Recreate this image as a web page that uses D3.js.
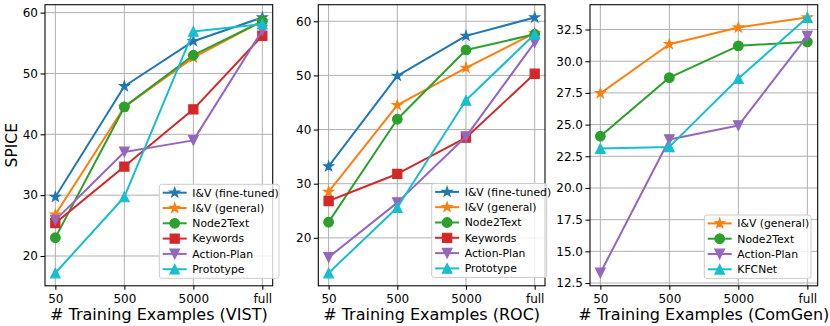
<!DOCTYPE html>
<html><head><meta charset="utf-8">
<script src="https://cdn.jsdelivr.net/npm/d3@7"></script>
<style>body{margin:0;background:#fff}svg{display:block}</style>
</head><body>
<script>
const categories = ["50", "500", "5000", "full"];

// Panel 1: VIST
const vistIVFine   = [29.7, 47.9, 55.3, 59.2];
const vistIVGen    = [26.8, 44.5, 52.6, 58.6];
const vistNode2    = [23.0, 44.5, 53.0, 58.6];
const vistKeywords = [25.4, 34.7, 44.1, 56.2];
const vistAction   = [25.9, 37.1, 39.0, 57.1];
const vistProto    = [17.2, 29.7, 56.9, 58.1];

// Panel 2: ROC
const rocIVFine   = [33.2, 49.9, 57.3, 60.7];
const rocIVGen    = [28.5, 44.5, 51.4, 57.8];
const rocNode2    = [22.9, 41.9, 54.7, 57.6];
const rocKeywords = [26.8, 31.8, 38.5, 50.3];
const rocAction   = [16.4, 26.5, 38.7, 56.1];
const rocProto    = [13.5, 25.6, 45.4, 57.6];

// Panel 3: ComGen
const cgIVGen  = [27.47, 31.34, 32.66, 33.45];
const cgNode2  = [24.08, 28.71, 31.21, 31.53];
const cgAction = [13.29, 23.82, 24.92, 31.97];
const cgKFC    = [23.11, 23.24, 28.63, 33.45];

const ticksVist = [20, 30, 40, 50, 60];
const ticksRoc = [20, 30, 40, 50, 60];
const ticksCg = [12.5, 15.0, 17.5, 20.0, 22.5, 25.0, 27.5, 30.0, 32.5];

const styles = {
  "I&V (fine-tuned)": {color: "#1f77b4", marker: "star"},
  "I&V (general)":    {color: "#ff7f0e", marker: "star"},
  "Node2Text":        {color: "#2ca02c", marker: "circle"},
  "Keywords":         {color: "#d62728", marker: "square"},
  "Action-Plan":      {color: "#9467bd", marker: "tdown"},
  "Prototype":        {color: "#17becf", marker: "tup"},
  "KFCNet":           {color: "#17becf", marker: "tup"}
};

const panels = [
  {xlabel: "# Training Examples (VIST)", ylabel: "SPICE", yticks: ticksVist, fmt: d3.format("d"),
   left: 45, right: 272.7, legendX: 159.3, legendY: 184.3, legendW: 119.7,
   series: [["I&V (fine-tuned)", vistIVFine], ["I&V (general)", vistIVGen], ["Node2Text", vistNode2],
            ["Keywords", vistKeywords], ["Action-Plan", vistAction], ["Prototype", vistProto]]},
  {xlabel: "# Training Examples (ROC)", ylabel: null, yticks: ticksRoc, fmt: d3.format("d"),
   left: 318.3, right: 545, legendX: 431.7, legendY: 183.5, legendW: 115,
   series: [["I&V (fine-tuned)", rocIVFine], ["I&V (general)", rocIVGen], ["Node2Text", rocNode2],
            ["Keywords", rocKeywords], ["Action-Plan", rocAction], ["Prototype", rocProto]]},
  {xlabel: "# Training Examples (ComGen)", ylabel: null, yticks: ticksCg, fmt: d3.format(".1f"),
   left: 590, right: 817.7, legendX: 704.3, legendY: 215, legendW: 106.7,
   series: [["I&V (general)", cgIVGen], ["Node2Text", cgNode2], ["Action-Plan", cgAction], ["KFCNet", cgKFC]]}
];

const W = 830, H = 326, TOP = 4.7, BOTTOM = 285.8;
const FONT = "'DejaVu Sans', sans-serif";
const svg = d3.select("body").append("svg").attr("width", W).attr("height", H);

const MS = 9.6;
function markerPath(type, s) {
  const r = s / 2;
  if (type === "circle") return d3.symbol(d3.symbolCircle, Math.PI * r * r)();
  if (type === "square") { const h = r * 0.95; return `M${-h},${-h}H${h}V${h}H${-h}Z`; }
  if (type === "tup") return `M0,${-r}L${r},${r}L${-r},${r}Z`;
  if (type === "tdown") return `M0,${r}L${r},${-r}L${-r},${-r}Z`;
  if (type === "star") {
    const pts = [];
    const ro = r * 1.05, ri = ro * 0.381966;
    for (let i = 0; i < 10; i++) {
      const a = -Math.PI / 2 + i * Math.PI / 5;
      const rr = i % 2 === 0 ? ro : ri;
      pts.push([rr * Math.cos(a), rr * Math.sin(a)]);
    }
    return "M" + pts.map(p => p.join(",")).join("L") + "Z";
  }
}

panels.forEach(p => {
  const allVals = p.series.flatMap(s => s[1]);
  const mn = d3.min(allVals), mx = d3.max(allVals), pad = (mx - mn) * 0.05;
  const x = d3.scaleLinear().domain([-0.15, categories.length - 1 + 0.15]).range([p.left, p.right]);
  const y = d3.scaleLinear().domain([mn - pad, mx + pad]).range([BOTTOM, TOP]);
  const g = svg.append("g");

  // grid
  g.append("g").selectAll("line").data(categories).join("line")
    .attr("x1", (d, i) => x(i)).attr("x2", (d, i) => x(i)).attr("y1", TOP).attr("y2", BOTTOM)
    .attr("stroke", "#b0b0b0").attr("stroke-width", 1);
  g.append("g").selectAll("line").data(p.yticks).join("line")
    .attr("x1", p.left).attr("x2", p.right).attr("y1", d => y(d)).attr("y2", d => y(d))
    .attr("stroke", "#b0b0b0").attr("stroke-width", 1);

  // axes
  const xAxis = d3.axisBottom(x).tickValues(d3.range(categories.length)).tickFormat(i => categories[i])
    .tickSizeInner(4).tickSizeOuter(0).tickPadding(4.5);
  const gx = g.append("g").attr("transform", `translate(0,${BOTTOM})`).call(xAxis);
  const yAxis = d3.axisLeft(y).tickValues(p.yticks).tickFormat(p.fmt)
    .tickSizeInner(4.5).tickSizeOuter(0).tickPadding(2.5);
  const gy = g.append("g").attr("transform", `translate(${p.left},0)`).call(yAxis);
  [gx, gy].forEach(a => {
    a.attr("font-family", FONT).attr("font-size", 12);
    a.select(".domain").remove();
    a.selectAll("line").attr("stroke", "#000").attr("stroke-width", 1.07);
    a.selectAll("text").attr("font-family", FONT).attr("font-size", 12).attr("fill", "#000");
  });

  // series
  const line = d3.line().x((d, i) => x(i)).y(d => y(d));
  p.series.forEach(([name, vals]) => {
    const st = styles[name];
    g.append("path").datum(vals).attr("d", line).attr("fill", "none")
      .attr("stroke", st.color).attr("stroke-width", 2).attr("stroke-linejoin", "round").attr("stroke-linecap", "square");
    g.append("g").selectAll("path").data(vals).join("path")
      .attr("transform", (d, i) => `translate(${x(i)},${y(d)})`)
      .attr("d", markerPath(st.marker, MS))
      .attr("fill", st.color).attr("stroke", st.color).attr("stroke-width", 1.2).attr("stroke-linejoin", "miter");
  });

  // frame
  g.append("rect").attr("x", p.left).attr("y", TOP).attr("width", p.right - p.left).attr("height", BOTTOM - TOP)
    .attr("fill", "none").attr("stroke", "#000").attr("stroke-width", 1.07);

  // labels
  g.append("text").attr("x", (p.left + p.right) / 2).attr("y", 320).attr("text-anchor", "middle")
    .attr("font-family", FONT).attr("font-size", 16).text(p.xlabel);
  if (p.ylabel) {
    g.append("text").attr("transform", `translate(17,${(TOP + BOTTOM) / 2}) rotate(-90)`).attr("text-anchor", "middle")
      .attr("font-family", FONT).attr("font-size", 15.5).text(p.ylabel);
  }

  // legend
  const rowH = 15.3, n = p.series.length;
  const lh = n * rowH + 2.2;
  const lg = g.append("g").attr("transform", `translate(${p.legendX},${p.legendY})`);
  lg.append("rect").attr("width", p.legendW).attr("height", lh).attr("rx", 2.5)
    .attr("fill", "#fff").attr("fill-opacity", 0.8).attr("stroke", "#cccccc").attr("stroke-width", 1);
  p.series.forEach(([name], i) => {
    const st = styles[name];
    const cy = 8.4 + i * rowH;
    lg.append("line").attr("x1", 3.4).attr("x2", 27.4).attr("y1", cy).attr("y2", cy)
      .attr("stroke", st.color).attr("stroke-width", 2);
    lg.append("path").attr("transform", `translate(15.4,${cy})`).attr("d", markerPath(st.marker, MS))
      .attr("fill", st.color).attr("stroke", st.color).attr("stroke-width", 1.2);
    lg.append("text").attr("x", 33).attr("y", cy).attr("dy", "0.36em")
      .attr("font-family", FONT).attr("font-size", 10.8).text(name);
  });
});
</script>
</body></html>
